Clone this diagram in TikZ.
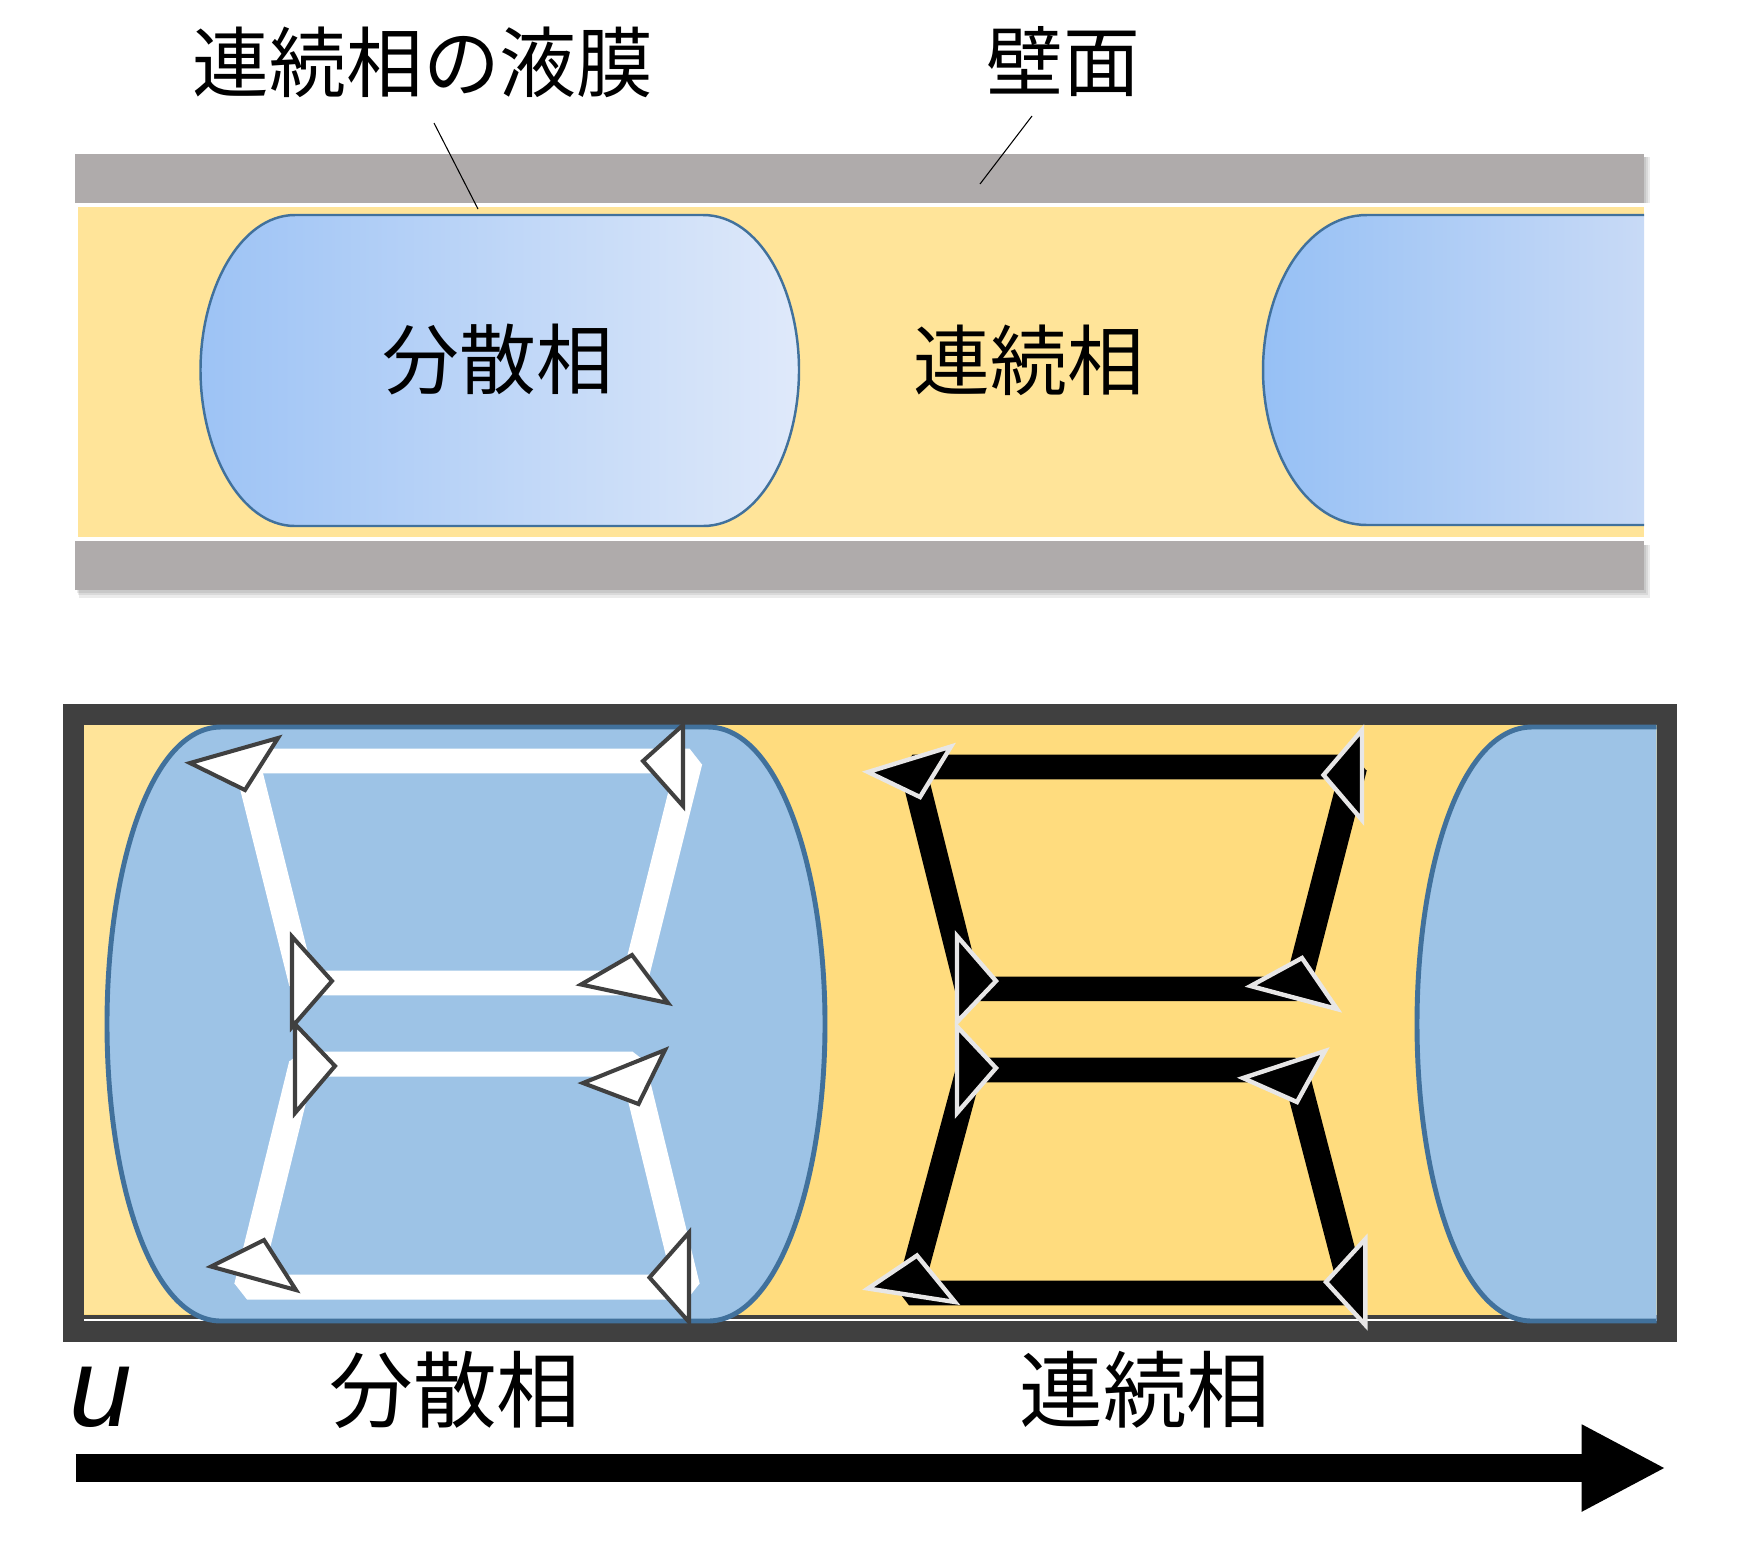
\documentclass[tikz,border=0pt]{standalone}
\usepackage{fontspec}
\newfontfamily\jpfont{Noto Sans CJK JP}
\newfontfamily\ufont{Liberation Sans}
\usepackage{xcolor}
\usetikzlibrary{arrows.meta}

\definecolor{wallgrey}{HTML}{AFABAB}
\definecolor{paleyellow}{HTML}{FFE499}
\definecolor{deepyellow}{HTML}{FFDC7E}
\definecolor{dropblue}{HTML}{9DC3E6}
\definecolor{dropedge}{HTML}{41719C}
\definecolor{darkframe}{HTML}{404040}
\definecolor{lightedge}{HTML}{E7E6E6}

\tikzset{
    wall/.style = {fill = wallgrey},
    wallshadow/.style = {fill = black, opacity = 0.08},
    labeltext/.style = {font = \jpfont\fontsize{43.7}{44}\selectfont, inner sep = 0pt},
    axistext/.style = {font = \jpfont\fontsize{47.6}{48}\selectfont, inner sep = 0pt},
    leader/.style = {black, line width = 0.6pt},
    whitetrace/.style = {draw = white, line width = 14.2pt, line join = bevel},
    blacktrace/.style = {draw = black, line width = 14pt, line join = bevel},
    whiteleg/.style = {draw = white, line width = 14.9pt},
    blackleg/.style = {draw = black, line width = 15pt},
    whitehead/.style = {draw = darkframe, fill = white, line width = 2.3pt},
    blackhead/.style = {draw = lightedge, fill = black, line width = 2.5pt},
    dropfill/.style = {fill = dropblue},
    dropline/.style = {draw = dropedge, line width = 2.8pt}
}

\begin{document}
\begin{tikzpicture}[x = 0.02cm, y = -0.02cm]
    \useasboundingbox (0, 0) rectangle (1750, 1551.5);

    \fill[wallshadow] (75, 157) rectangle (1646, 207);
    \fill[wallshadow] (75, 157) rectangle (1648, 207);
    \fill[wallshadow] (75, 157) rectangle (1650, 207);
    \fill[wallshadow] (77, 545) rectangle (1646, 593);
    \fill[wallshadow] (78, 545) rectangle (1648, 595);
    \fill[wallshadow] (79, 545) rectangle (1650, 598);
    \fill[white] (75, 203) rectangle (1650, 541);
    \fill[wall] (75, 154) rectangle (1644, 203);
    \fill[wall] (75, 541) rectangle (1644, 590);
    \fill[paleyellow] (78, 207) rectangle (1644, 537);

    \shade[left color = {rgb,255:red,157;green,195;blue,245}, right color = {rgb,255:red,223;green,233;blue,250}]
        (295, 215) -- (703, 215) .. controls (760, 215) and (799, 290) .. (799, 370)
        .. controls (799, 450) and (760, 526) .. (703, 526) -- (295, 526)
        .. controls (240, 526) and (200.5, 450) .. (200.5, 370)
        .. controls (200.5, 290) and (240, 215) .. (295, 215) -- cycle;
    \draw[dropedge, line width = 1.4pt]
        (295, 215) -- (703, 215) .. controls (760, 215) and (799, 290) .. (799, 370)
        .. controls (799, 450) and (760, 526) .. (703, 526) -- (295, 526)
        .. controls (240, 526) and (200.5, 450) .. (200.5, 370)
        .. controls (200.5, 290) and (240, 215) .. (295, 215) -- cycle;
    \shade[left color = {rgb,255:red,150;green,192;blue,245}, right color = {rgb,255:red,200;green,218;blue,246}]
        (1644, 215) -- (1367, 215) .. controls (1305, 215) and (1263, 290) .. (1263, 370)
        .. controls (1263, 450) and (1305, 525) .. (1367, 525) -- (1644, 525) -- cycle;
    \draw[dropedge, line width = 1.4pt]
        (1644, 215) -- (1367, 215) .. controls (1305, 215) and (1263, 290) .. (1263, 370)
        .. controls (1263, 450) and (1305, 525) .. (1367, 525) -- (1644, 525);

    \node[labeltext] (filmlabel) at (423, 62) {連続相の液膜};
    \node[labeltext] (walllabel) at (1063, 62) {壁面};
    \node[labeltext] (droplabel) at (498, 360) {分散相};
    \node[labeltext] (bulklabel) at (1029, 360) {連続相};

    \coordinate (filmstart) at (434, 123);
    \coordinate (filmend) at (478, 209);
    \coordinate (wallstart) at (1032, 116);
    \coordinate (wallend) at (980, 184);
    \draw[leader] (filmstart) -- (filmend);
    \draw[leader] (wallstart) -- (wallend);

    \fill[darkframe] (63, 703.5) rectangle (1677, 1342);
    \fill[deepyellow] (84, 725) rectangle (1656.5, 1315);
    \fill[paleyellow] (84, 725) rectangle (400, 1314);
    \fill[white] (84, 1319) rectangle (1656.5, 1321);

    \fill[dropfill] (221, 727) -- (708, 727) .. controls (779, 727) and (825, 870) .. (825, 1024)
        .. controls (825, 1178) and (779, 1321) .. (708, 1321) -- (221, 1321)
        .. controls (150, 1321) and (107, 1178) .. (107, 1024)
        .. controls (107, 870) and (150, 727) .. (221, 727) -- cycle;
    \draw[dropline] (221, 727) -- (708, 727) .. controls (779, 727) and (825, 870) .. (825, 1024)
        .. controls (825, 1178) and (779, 1321) .. (708, 1321) -- (221, 1321)
        .. controls (150, 1321) and (107, 1178) .. (107, 1024)
        .. controls (107, 870) and (150, 727) .. (221, 727) -- cycle;
    \fill[dropfill] (1656.5, 727) -- (1532, 727) .. controls (1460, 727) and (1417, 870) .. (1417, 1024)
        .. controls (1417, 1178) and (1460, 1321) .. (1532, 1321) -- (1656.5, 1321) -- cycle;
    \draw[dropline] (1656.5, 727) -- (1532, 727) .. controls (1460, 727) and (1417, 870) .. (1417, 1024)
        .. controls (1417, 1178) and (1460, 1321) .. (1532, 1321) -- (1656.5, 1321);

    \draw[whitetrace] (634, 983) -- (302, 983) -- (246.5, 761) -- (689.5, 761) -- cycle;
    \draw[whitetrace] (632.5, 1064) -- (302, 1064) -- (247, 1287) -- (687, 1287) -- cycle;
    \draw[blacktrace] (1297, 988.8) -- (968, 988.8) -- (912.5, 767) -- (1354, 767) -- cycle;
    \draw[blacktrace] (1295, 1070) -- (969, 1070) -- (909, 1293) -- (1353, 1293) -- cycle;

    \draw[whiteleg] (302, 983) -- (246.5, 761);
    \draw[whiteleg] (634, 983) -- (689.5, 761);
    \draw[whiteleg] (302, 1064) -- (247, 1287);
    \draw[whiteleg] (632.5, 1064) -- (687, 1287);
    \draw[blackleg] (968, 988.8) -- (912.5, 767);
    \draw[blackleg] (1297, 988.8) -- (1354, 767);
    \draw[blackleg] (969, 1070) -- (909, 1293);
    \draw[blackleg] (1295, 1070) -- (1353, 1293);

    \filldraw[whitehead] (190, 763) -- (278, 738) -- (245, 790) -- cycle;
    \filldraw[whitehead] (643, 761) -- (683, 725) -- (683, 806) -- cycle;
    \filldraw[whitehead] (292, 936.5) -- (332, 981) -- (292, 1027) -- cycle;
    \filldraw[whitehead] (581, 984.5) -- (632, 955) -- (668, 1003) -- cycle;
    \filldraw[whitehead] (295, 1024) -- (335, 1066) -- (295, 1113) -- cycle;
    \filldraw[whitehead] (583, 1083) -- (665, 1050) -- (638.5, 1104) -- cycle;
    \filldraw[whitehead] (211, 1266.5) -- (264, 1240) -- (296, 1290) -- cycle;
    \filldraw[whitehead] (649.5, 1277.5) -- (689, 1232.5) -- (689, 1322) -- cycle;

    \filldraw[blackhead] (868, 772) -- (951, 746.5) -- (920, 797) -- cycle;
    \filldraw[blackhead] (1323.5, 775) -- (1362, 730) -- (1362, 820) -- cycle;
    \filldraw[blackhead] (957, 936) -- (996, 981) -- (957, 1022) -- cycle;
    \filldraw[blackhead] (1250.6, 986) -- (1302, 958) -- (1337, 1009) -- cycle;
    \filldraw[blackhead] (957, 1026.5) -- (996, 1068) -- (957, 1113) -- cycle;
    \filldraw[blackhead] (1243, 1078) -- (1325, 1051) -- (1297, 1102) -- cycle;
    \filldraw[blackhead] (868, 1288.5) -- (917, 1255.5) -- (955, 1302) -- cycle;
    \filldraw[blackhead] (1326, 1282) -- (1365.4, 1239) -- (1365.4, 1325) -- cycle;

    \node[axistext] (dropaxis) at (455, 1390) {分散相};
    \node[axistext] (bulkaxis) at (1145, 1390) {連続相};
    \node[font = \ufont\itshape\fontsize{64}{64}\selectfont, inner sep = 0pt] (ulabel) at (101, 1397) {u};

    \coordinate (axisstart) at (75.5, 1468);
    \coordinate (axisend) at (1666, 1468);
    \draw[-{Triangle[length = 48pt, width = 46pt]}, line width = 15.7pt] (axisstart) -- (axisend);
\end{tikzpicture}
\end{document}
